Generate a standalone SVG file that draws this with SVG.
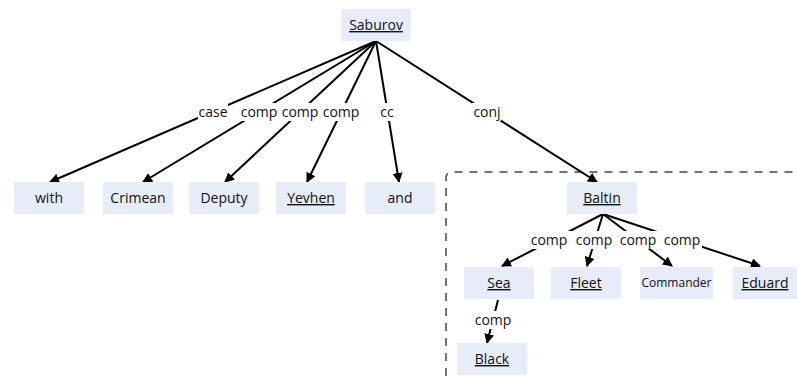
<svg xmlns="http://www.w3.org/2000/svg" width="797" height="376" viewBox="0 0 797 376">
<style>
.box{fill:#e7edf8;}
.t{font-family:"Open Sans","Noto Sans",sans-serif;font-size:14px;fill:#111;text-anchor:middle;}
.s{font-size:12px;}
.u{text-decoration:underline;}
.e{stroke:#000;stroke-width:2;fill:none;marker-end:url(#ah);}
.lb{fill:#fff;}
.l{font-family:"Open Sans","Noto Sans",sans-serif;font-size:14px;fill:#111;text-anchor:middle;}
</style>
<defs>
<marker id="ah" viewBox="0 0 10 10" refX="9" refY="5" markerWidth="5" markerHeight="5" orient="auto" markerUnits="strokeWidth">
<path d="M0,0 L10,5 L0,10 z" fill="#000"/>
</marker>
</defs>
<rect width="797" height="376" fill="#fff"/>
<path d="M446,376 L446,178 Q446,172 452,172 L797,172" fill="none" stroke="#444" stroke-width="1.5" stroke-dasharray="8,7"/>
<g id="connectors">
<line class="e" x1="376" y1="41" x2="50" y2="182"/>
<line class="e" x1="376" y1="41" x2="143" y2="182"/>
<line class="e" x1="376" y1="41" x2="225" y2="182"/>
<line class="e" x1="376" y1="41" x2="307" y2="182"/>
<line class="e" x1="376" y1="41" x2="399" y2="182"/>
<line class="e" x1="376" y1="41" x2="597" y2="182"/>
<line class="e" x1="603" y1="214" x2="502" y2="266"/>
<line class="e" x1="603" y1="214" x2="587" y2="266"/>
<line class="e" x1="603" y1="214" x2="672" y2="266"/>
<line class="e" x1="603" y1="214" x2="760" y2="266"/>
<line class="e" x1="498" y1="300" x2="487" y2="343"/>
<rect class="lb" x="198" y="103" width="30" height="18"/>
<rect class="lb" x="240" y="103" width="120" height="18"/>
<rect class="lb" x="379" y="103" width="16" height="18"/>
<rect class="lb" x="472" y="103" width="29" height="18"/>
<rect class="lb" x="530" y="231" width="172" height="18"/>
<rect class="lb" x="474" y="311" width="38" height="18"/>
<text class="l" x="213" y="117">case</text>
<text class="l" x="259" y="117">comp</text>
<text class="l" x="300" y="117">comp</text>
<text class="l" x="341" y="117">comp</text>
<text class="l" x="387" y="117">cc</text>
<text class="l" x="487" y="117">conj</text>
<text class="l" x="549" y="245">comp</text>
<text class="l" x="594" y="245">comp</text>
<text class="l" x="638" y="245">comp</text>
<text class="l" x="682" y="245">comp</text>
<text class="l" x="493" y="325">comp</text>
</g>
<g id="n-saburov"><rect class="box" x="341" y="9" width="70" height="32"/><text class="t u" x="376" y="30">Saburov</text></g>
<g id="n-with"><rect class="box" x="14" y="182" width="70" height="32"/><text class="t" x="49" y="203">with</text></g>
<g id="n-crimean"><rect class="box" x="103" y="182" width="70" height="32"/><text class="t" x="138" y="203">Crimean</text></g>
<g id="n-deputy"><rect class="box" x="189" y="182" width="70" height="32"/><text class="t" x="224" y="203">Deputy</text></g>
<g id="n-yevhen"><rect class="box" x="276" y="182" width="70" height="32"/><text class="t u" x="311" y="203">Yevhen</text></g>
<g id="n-and"><rect class="box" x="365" y="182" width="70" height="32"/><text class="t" x="400" y="203">and</text></g>
<g id="n-baltin"><rect class="box" x="567" y="182" width="70" height="32"/><text class="t u" x="602" y="203">Baltin</text></g>
<g id="n-sea"><rect class="box" x="464" y="267" width="70" height="32"/><text class="t u" x="499" y="288">Sea</text></g>
<g id="n-fleet"><rect class="box" x="551" y="267" width="70" height="32"/><text class="t u" x="586" y="288">Fleet</text></g>
<g id="n-commander"><rect class="box" x="640" y="267" width="73" height="32"/><text class="t s" x="676.5" y="287">Commander</text></g>
<g id="n-eduard"><rect class="box" x="733" y="267" width="64" height="32"/><text class="t u" x="765" y="288">Eduard</text></g>
<g id="n-black"><rect class="box" x="457" y="343" width="70" height="32"/><text class="t u" x="492" y="364">Black</text></g>
</svg>
